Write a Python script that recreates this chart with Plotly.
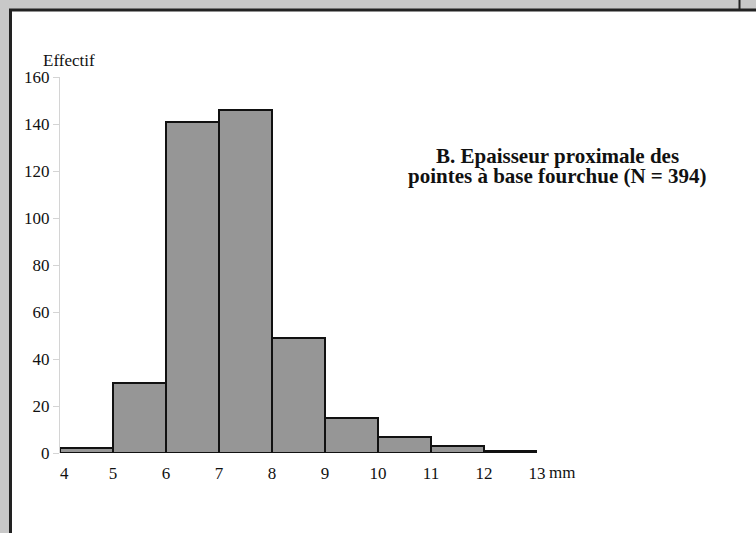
import plotly.graph_objects as go

bin_left = [4, 5, 6, 7, 8, 9, 10, 11, 12]
counts = [2, 30, 141, 146, 49, 15, 7, 3, 1]
x_ticks = [4, 5, 6, 7, 8, 9, 10, 11, 12, 13]
x_tick_text = ["\u00a0\u00a04", "5", "6", "7", "8", "9", "10", "11", "12", "13"]
y_ticks = [0, 20, 40, 60, 80, 100, 120, 140, 160]
title_lines = ["B. Epaisseur proximale des", "pointes à base fourchue (N = 394)"]

W, H = 756, 533
L, R, T, B = 60, 537, 77, 453

def px_x(p):
    return (p - L) / (R - L)

def px_y(p):
    return (B - p) / (B - T)

fig = go.Figure()
fig.add_trace(go.Bar(
    x=[b + 0.5 for b in bin_left],
    y=counts,
    width=1,
    marker=dict(color="#969696", line=dict(color="#111111", width=2)),
    hoverinfo="skip",
))

font = "Liberation Serif"

annotations = [
    dict(text="Effectif", xref="paper", yref="paper",
         x=px_x(69), y=px_y(61), xanchor="center", yanchor="middle",
         showarrow=False,
         font=dict(family=font, size=17, color="#111111")),
    dict(text="mm", xref="paper", yref="paper",
         x=px_x(547), y=px_y(473), xanchor="left", yanchor="middle",
         showarrow=False,
         font=dict(family=font, size=17, color="#111111")),
]
for i, line in enumerate(title_lines):
    annotations.append(dict(
        text="<b>" + line + "</b>", xref="paper", yref="paper",
        x=px_x(557.5), y=px_y(156 + 19.5 * i),
        xanchor="center", yanchor="middle", showarrow=False,
        font=dict(family=font, size=21, color="#111111")))

fig.update_layout(
    width=W, height=H,
    margin=dict(l=L, r=W - R, t=T, b=H - B),
    paper_bgcolor="#c8c8c8",
    plot_bgcolor="rgba(0,0,0,0)",
    showlegend=False,
    bargap=0,
    font=dict(family=font, size=17, color="#111111"),
    xaxis=dict(
        range=[4, 13], tickvals=x_ticks, ticktext=x_tick_text,
        showgrid=False, zeroline=False, showline=False,
        ticks="outside", ticklen=5, tickcolor="rgba(0,0,0,0)",
        tickfont=dict(family=font, size=17, color="#111111"),
    ),
    yaxis=dict(
        range=[0, 160], tickvals=y_ticks,
        showgrid=False, zeroline=False,
        showline=True, linecolor="#d4d4d4", linewidth=1,
        ticks="outside", ticklen=6, tickcolor="#d4d4d4",
        tickfont=dict(family=font, size=17, color="#111111"),
    ),
    shapes=[
        dict(type="rect", xref="paper", yref="paper", layer="below",
             x0=px_x(10.5), x1=px_x(770), y0=px_y(10), y1=px_y(545),
             fillcolor="white", line=dict(color="#222222", width=3)),
        dict(type="line", xref="paper", yref="paper",
             x0=px_x(739.5), x1=px_x(739.5), y0=px_y(0), y1=px_y(10),
             line=dict(color="#222222", width=2)),
    ],
    annotations=annotations,
)

fig.write_html("out.html", config={"displayModeBar": False},
               post_script="document.body.style.margin='0';document.body.style.overflow='hidden';")
